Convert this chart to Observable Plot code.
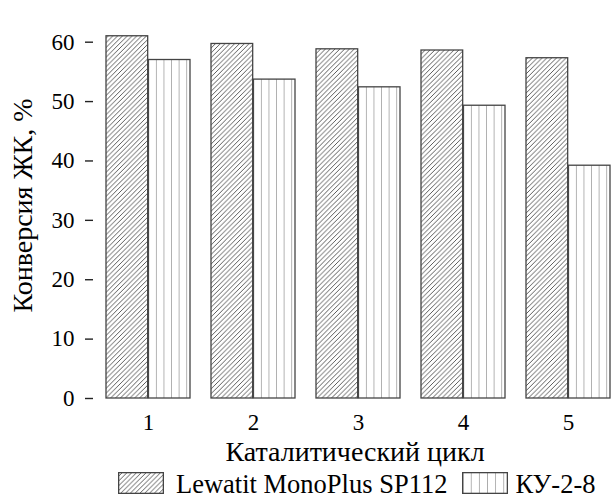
<!DOCTYPE html>
<html>
<head>
<meta charset="utf-8">
<script src="https://cdn.jsdelivr.net/npm/d3@7"></script>
<script src="https://cdn.jsdelivr.net/npm/@observablehq/plot@0.6"></script>
<style>
  html, body { margin: 0; padding: 0; background: white; }
  #wrap { width: 616px; height: 499px; position: relative; }
  #legend { display: flex; align-items: flex-start; padding-left: 118px; height: 29px;
            font-family: 'Liberation Serif', 'Times New Roman', serif; font-size: 26.5px; line-height: 1; color: #000; white-space: nowrap; }
</style>
</head>
<body>
<svg width="0" height="0" style="position:absolute">
  <defs>
    <pattern id="hatch" patternUnits="userSpaceOnUse" width="4.8" height="4.8">
      <path d="M0,4.8 L4.8,0 M-1.2,1.2 L1.2,-1.2 M3.6,6 L6,3.6" stroke="#4a4a4a" stroke-width="0.9" fill="none"/>
    </pattern>
    <pattern id="vlines" patternUnits="objectBoundingBox" x="0" y="0" width="0.1818" height="1">
      <line x1="0" y1="0" x2="0" y2="2000" stroke="#666" stroke-width="1"/>
    </pattern>
  </defs>
</svg>
<div id="wrap">
  <div id="chart"></div>
  <div id="legend"></div>
</div>
<script>
const cycles = ["1", "2", "3", "4", "5"];
const seriesNames = ["Lewatit MonoPlus SP112", "КУ-2-8"];
const lewatit = [61.0, 59.7, 58.8, 58.6, 57.3];
const ku28 = [57.0, 53.7, 52.4, 49.3, 39.2];
const yTicks = [0, 10, 20, 30, 40, 50, 60];
const xLabel = "Каталитический цикл";
const yLabel = "Конверсия ЖК, %";

const data = cycles.flatMap((c, i) => [
  {cycle: c, series: seriesNames[0], value: lewatit[i]},
  {cycle: c, series: seriesNames[1], value: ku28[i]}
]);

const FONT = "'Liberation Serif', 'Times New Roman', serif";
const W = 616, H = 470, ML = 93, MR = 0;
const padIn = 0.2, padOut = 0.0716;
const step = (W - ML - MR) / (cycles.length - padIn + 2 * padOut);
const half = step * (1 - padIn) / 2;

const chart = Plot.plot({
  width: W,
  height: H,
  marginLeft: ML,
  marginRight: MR,
  marginTop: 12,
  marginBottom: 72,
  style: {fontFamily: FONT, fontSize: "23px", color: "#000", background: "white"},
  x: {domain: cycles, paddingInner: padIn, paddingOuter: padOut, align: 0.66},
  y: {domain: [0, 65]},
  marks: [
    Plot.barY(data.filter(d => d.series === seriesNames[0]), {
      x: "cycle", y: "value", fill: "url(#hatch)", stroke: "#444", strokeWidth: 1.3, insetRight: half
    }),
    Plot.barY(data.filter(d => d.series === seriesNames[1]), {
      x: "cycle", y: "value", fill: "url(#vlines)", stroke: "#444", strokeWidth: 1.3, insetLeft: half
    }),
    Plot.axisY({ticks: yTicks, tickSize: 8, tickPadding: 11, line: true, label: null,
      stroke: "#222", strokeWidth: 1.4, fontFamily: FONT, fontSize: 23}),
    Plot.axisX({tickSize: 0, tickPadding: 15, line: true, label: null,
      stroke: "#222", strokeWidth: 1.4, fontFamily: FONT, fontSize: 23}),
    Plot.text([xLabel], {text: d => d, frameAnchor: "bottom", lineAnchor: "middle", textAnchor: "middle",
      dy: 54, fontSize: 28, fontFamily: FONT, fill: "#000"}),
    Plot.text([yLabel], {text: d => d, frameAnchor: "left", lineAnchor: "middle", textAnchor: "middle",
      rotate: -90, dx: -70, fontSize: 28, fontFamily: FONT, fill: "#000"})
  ]
});
chart.setAttribute("font-family", FONT);
document.getElementById("chart").appendChild(chart);

const legend = document.getElementById("legend");
const patterns = ["url(#hatch)", "url(#vlines)"];
seriesNames.forEach((name, i) => {
  const sw = document.createElementNS("http://www.w3.org/2000/svg", "svg");
  sw.setAttribute("width", 46);
  sw.setAttribute("height", 22);
  sw.style.marginTop = "2px";
  sw.style.marginLeft = i === 0 ? "0px" : "15px";
  sw.style.flex = "none";
  const r = document.createElementNS("http://www.w3.org/2000/svg", "rect");
  r.setAttribute("x", 0.65); r.setAttribute("y", 0.65);
  r.setAttribute("width", 44.7); r.setAttribute("height", 20.7);
  r.setAttribute("fill", patterns[i]); r.setAttribute("stroke", "#444"); r.setAttribute("stroke-width", 1.3);
  sw.appendChild(r);
  legend.appendChild(sw);
  const t = document.createElement("span");
  t.textContent = name;
  t.style.fontFamily = FONT;
  t.style.marginLeft = i === 0 ? "12px" : "7px";
  t.style.marginTop = "1px";
  legend.appendChild(t);
});
</script>
</body>
</html>
